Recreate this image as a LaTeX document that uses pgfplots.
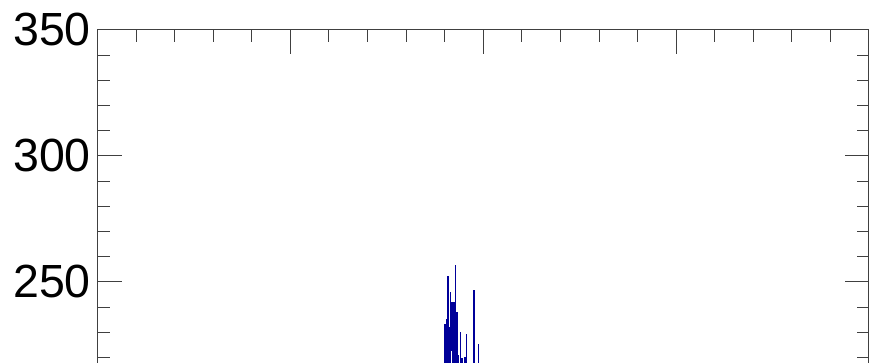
\documentclass[border=0pt]{standalone}
\usepackage{fontspec}
\setmainfont{Liberation Sans}
\usepackage{pgfplots}
\pgfplotsset{compat=1.18}
\definecolor{rootblue}{RGB}{0,0,153}
\begin{document}
\begin{tikzpicture}
\begin{axis}[
  at={(97.5pt,0pt)}, anchor=south west,
  scale only axis, width=771.1pt, height=378pt,
  xmin=97.5, xmax=868.6, ymin=200, ymax=350,
  xtick={290.39,483.28,676.16}, xticklabels={},
  minor xtick={136.08,174.66,213.23,251.81,328.97,367.54,406.12,444.70,521.85,560.43,599.01,637.59,714.74,753.32,791.90,830.47},
  ytick={200,250,300,350}, yticklabels={,250,300,350}, minor y tick num=4,
  major tick length=24pt, minor tick length=12pt,
  axis line style={black!75, line width=1pt},
  every tick/.style={black!75, line width=1pt},
  yticklabel style={font=\fontsize{46.5}{50}\selectfont, anchor=east, inner sep=0pt, xshift=-6.5pt},
  /pgf/number format/assume math mode=true,
  clip=true,
]
\addplot[const plot, color=rootblue, line width=1pt] coordinates {
(400,0)
(444.0,233) (444.6,100)
(445.0,233) (445.6,100)
(446.0,235) (446.6,100)
(447.0,235) (447.4,100)
(447.9,252) (448.3,100)
(448.7,232) (449.3,100)
(449.6,232) (450.0,100)
(450.3,246) (450.8,223)
(451.5,242) (452.0,100)
(452.4,242) (452.9,100)
(453.3,242) (453.8,100)
(454.2,242) (454.6,100)
(455.0,256.7) (455.7,100)
(456.1,238) (456.7,100)
(457.1,238) (457.7,221)
(458.3,100)
(460.5,230) (460.9,100)
(461.5,219.5) (462.5,100)
(464.5,220) (465.2,100)
(466.1,229) (466.5,100)
(473.8,246.8) (474.3,100)
(478.5,225) (478.9,100)
(490,0)
};
\end{axis}
\pgfresetboundingbox
\useasboundingbox (0,45pt) rectangle (870pt,408pt);
\end{tikzpicture}
\end{document}
